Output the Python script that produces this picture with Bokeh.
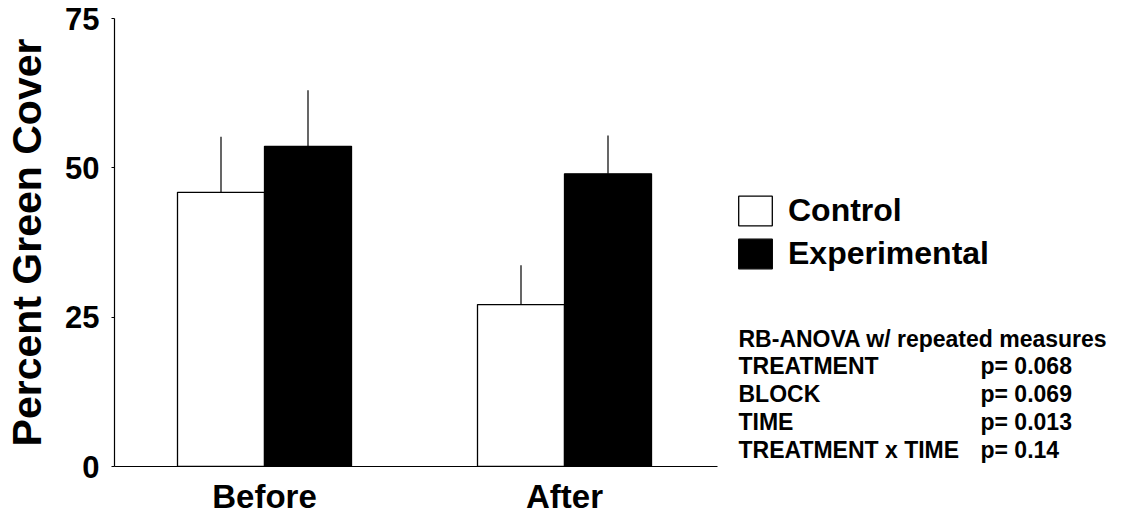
from bokeh.plotting import figure
from bokeh.models import FixedTicker, Legend, LegendItem, Label, Range1d
from bokeh.embed import file_html
from bokeh.resources import INLINE

# ---- data ----
periods = ["Before", "After"]
period_pos = [1, 2]
control_mean = [45.9, 27.1]
control_se = [9.3, 6.6]
experimental_mean = [53.6, 49.0]
experimental_se = [9.4, 6.4]
y_ticks = [0, 25, 50, 75]

stat_title = "RB-ANOVA w/ repeated measures"
stat_terms = ["TREATMENT", "BLOCK", "TIME", "TREATMENT x TIME"]
stat_pvalues = ["p= 0.068", "p= 0.069", "p= 0.013", "p= 0.14"]

FONT = "Liberation Sans"
BAR_W = 0.29
OFF = 0.145

ctrl_x = [p - OFF for p in period_pos]
exp_x = [p + OFF for p in period_pos]

FIG_W, FIG_H = 1124, 519
LEFT, TOP, BOTTOM = 114, 18, 53
frame_w = FIG_W - LEFT
frame_h = FIG_H - TOP - BOTTOM

p = figure(width=FIG_W, height=FIG_H, output_backend="svg", toolbar_location=None,
           x_range=Range1d(0.5, 0.5 + frame_w / 300), y_range=Range1d(0, 75),
           min_border_left=LEFT, min_border_right=0, min_border_top=TOP,
           min_border_bottom=BOTTOM)
p.outline_line_color = None
p.grid.visible = False
p.background_fill_color = "white"
p.border_fill_color = "white"

r_ctrl = p.vbar(x=ctrl_x, top=control_mean, width=BAR_W, bottom=0,
                fill_color="white", line_color="black", line_width=1.3)
r_exp = p.vbar(x=exp_x, top=experimental_mean, width=BAR_W, bottom=0,
               fill_color="black", line_color="black", line_width=1.3)

# upward-only error bars
p.segment(x0=ctrl_x, y0=control_mean, x1=ctrl_x,
          y1=[m + s for m, s in zip(control_mean, control_se)],
          line_color="black", line_width=1.2)
p.segment(x0=exp_x, y0=experimental_mean, x1=exp_x,
          y1=[m + s for m, s in zip(experimental_mean, experimental_se)],
          line_color="black", line_width=1.2)

# x axis
xa = p.xaxis[0]
xa.ticker = FixedTicker(ticks=period_pos)
xa.major_label_overrides = {pp: lab for pp, lab in zip(period_pos, periods)}
xa.bounds = (0.5, 2.51)
xa.major_tick_out = 0
xa.major_tick_in = 0
xa.major_tick_line_color = None
xa.minor_tick_line_color = None
xa.axis_line_color = "black"
xa.axis_line_width = 1.2
xa.major_label_text_font = FONT
xa.major_label_text_font_style = "bold"
xa.major_label_text_font_size = "33px"
xa.major_label_text_color = "black"
xa.major_label_standoff = 11

# y axis
ya = p.yaxis[0]
ya.ticker = FixedTicker(ticks=y_ticks)
ya.minor_tick_line_color = None
ya.major_tick_out = 3
ya.major_tick_in = 0
ya.axis_line_width = 1.2
ya.major_label_text_font = FONT
ya.major_label_text_font_style = "bold"
ya.major_label_text_font_size = "31px"
ya.major_label_text_color = "black"
ya.major_label_standoff = 12
ya.axis_label = "Percent Green Cover"
ya.axis_label_text_font = FONT
ya.axis_label_text_font_style = "bold"
ya.axis_label_text_font_size = "41px"
ya.axis_label_text_color = "black"
ya.axis_label_standoff = 12

# legend
legend = Legend(items=[LegendItem(label="Control", renderers=[r_ctrl]),
                       LegendItem(label="Experimental", renderers=[r_exp])],
                location=(620, 194), orientation="vertical",
                glyph_width=42, glyph_height=37, label_height=37,
                label_standoff=12, spacing=6, padding=0, margin=0,
                border_line_color=None, background_fill_alpha=0,
                label_text_font=FONT, label_text_font_style="bold",
                label_text_font_size="32px", label_text_color="black")
p.add_layout(legend, "center")

# statistics block (screen units measured from the frame's bottom-left)
axis_y = 466          # canvas y of the x axis
first_baseline = 338
line_gap = 27.8
lines_left = [stat_title] + stat_terms
for i, txt in enumerate(lines_left):
    p.add_layout(Label(x=624, y=axis_y - (first_baseline + i * line_gap),
                       x_units="screen", y_units="screen", text=txt,
                       text_font=FONT, text_font_style="bold",
                       text_font_size="23px", text_color="black",
                       text_baseline="alphabetic"))
for i, txt in enumerate(stat_pvalues):
    p.add_layout(Label(x=866, y=axis_y - (first_baseline + (i + 1) * line_gap),
                       x_units="screen", y_units="screen", text=txt,
                       text_font=FONT, text_font_style="bold",
                       text_font_size="23px", text_color="black",
                       text_baseline="alphabetic"))

open("out.html", "w").write(file_html(p, INLINE))
